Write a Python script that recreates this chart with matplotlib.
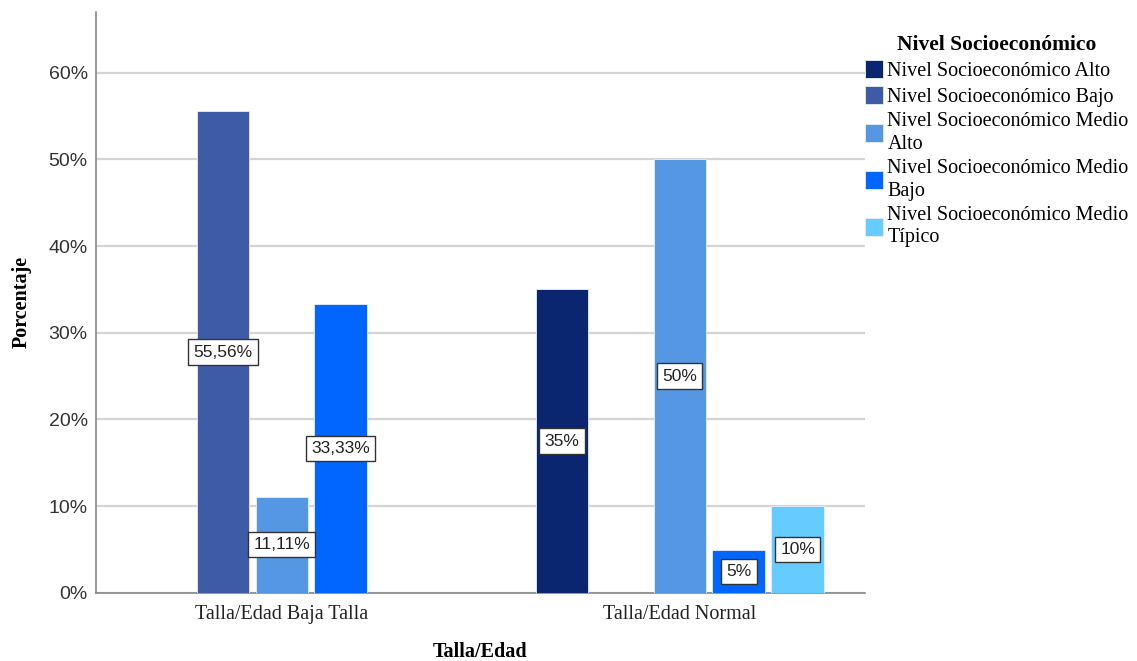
import numpy as np
import matplotlib
matplotlib.use("Agg")
import matplotlib.pyplot as plt
from matplotlib.patches import Patch

# datos (porcentajes)
grupos = ["Talla/Edad Baja Talla", "Talla/Edad Normal"]
niveles = ["Nivel Socioeconómico Alto", "Nivel Socioeconómico Bajo",
           "Nivel Socioeconómico Medio\nAlto", "Nivel Socioeconómico Medio\nBajo",
           "Nivel Socioeconómico Medio\nTípico"]
alto = [0, 35]
bajo = [55.56, 0]
medio_alto = [11.11, 50]
medio_bajo = [33.33, 5]
medio_tipico = [0, 10]
colores = ["#0b2670", "#3e5ba8", "#5597e3", "#0066ff", "#66ccff"]

series = [alto, bajo, medio_alto, medio_bajo, medio_tipico]

plt.rcParams['font.family'] = ['Liberation Serif', 'DejaVu Serif']
sans = ['Liberation Sans', 'DejaVu Sans']

fig = plt.figure(figsize=(11.37, 6.61), dpi=100)
ax = fig.add_axes([0.0844, 0.103, 0.6766, 0.879])

x = np.arange(len(grupos))
paso = 0.148
ancho = 0.132

for i, vals in enumerate(series):
    off = (i - 2) * paso
    for g, v in enumerate(vals):
        if v == 0:
            continue
        ax.bar(x[g] + off, v, width=ancho, color=colores[i],
               edgecolor="#e8eef8", linewidth=0.6, zorder=3)
        txt = f"{v:g}".replace(".", ",") + "%"
        ax.text(x[g] + off, v / 2, txt, ha="center", va="center",
                fontsize=12.5, family=sans, color="#222222", zorder=5,
                bbox=dict(boxstyle="square,pad=0.3", fc="white",
                          ec="#333333", lw=1.0))

ax.set_xlim(-0.467, 1.466)
ax.set_ylim(0, 67)
ax.set_yticks(np.arange(0, 61, 10))
ax.set_yticklabels([f"{t}%" for t in range(0, 61, 10)], fontsize=14,
                   family=sans, color="#333333")
ax.set_xticks(x)
ax.set_xticklabels(grupos, fontsize=14.5, color="#222222")
ax.tick_params(axis="y", length=0, pad=6)
ax.tick_params(axis="x", length=0, pad=9)
ax.yaxis.grid(True, color="#d4d4d4", linewidth=1.6, zorder=0)
ax.set_axisbelow(True)
for s in ["top", "right"]:
    ax.spines[s].set_visible(False)
for s in ["left", "bottom"]:
    ax.spines[s].set_color("#888888")
    ax.spines[s].set_linewidth(1.2)

ax.set_ylabel("Porcentaje", fontsize=14.5, fontweight="bold", labelpad=12)
fig.text(0.4225, 1 - 652 / 661, "Talla/Edad", ha="center", va="center",
         fontsize=14.5, fontweight="bold")

handles = [Patch(facecolor=c, edgecolor="#e8eef8", linewidth=0.6) for c in colores]
leg = fig.legend(handles, niveles, loc="upper left", bbox_to_anchor=(0.761, 0.947),
                 frameon=False, fontsize=14.5, title="Nivel Socioeconómico",
                 title_fontproperties={"weight": "bold", "size": 15.5},
                 handlelength=0.9, handleheight=1.0, handletextpad=0.2,
                 labelspacing=0.25, borderaxespad=0, borderpad=0)
for t in leg.get_texts():
    t.set_linespacing(1.27)

fig.savefig("out.png", dpi=100)
